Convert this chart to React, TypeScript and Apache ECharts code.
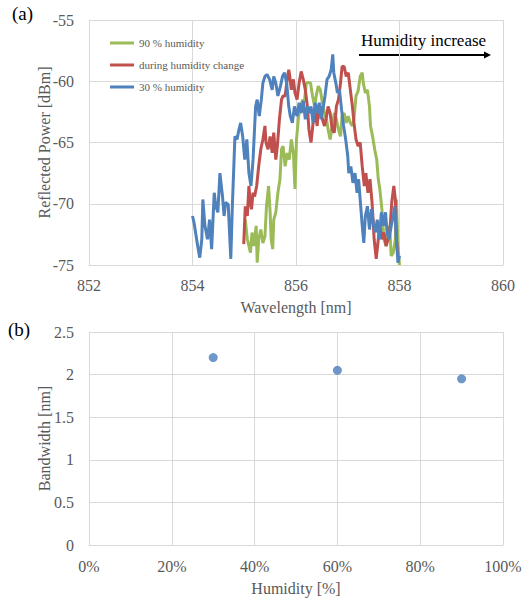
import React, { useEffect, useRef } from "react";
import * as echarts from "echarts";

// ---- Panel (a): reflected spectra ----
const wl30 = [854.00,854.03,854.10,854.14,854.18,854.20,854.24,854.29,854.33,854.37,854.42,854.45,854.49,854.53,854.58,854.61,854.64,854.69,854.74,854.77,854.82,854.86,854.90,854.93,854.97,855.01,855.05,855.09,855.13,855.17,855.22,855.25,855.29,855.33,855.36,855.40,855.44,855.49,855.54,855.57,855.61,855.65,855.70,855.74,855.78,855.82,855.86,855.89,855.93,855.97,856.02,856.06,856.10,856.14,856.18,856.22,856.25,856.29,856.33,856.37,856.41,856.45,856.48,856.52,856.56,856.60,856.64,856.68,856.71,856.73,856.77,856.80,856.84,856.88,856.92,856.96,857.00,857.02,857.06,857.10,857.14,857.18,857.21,857.25,857.28,857.31,857.34,857.38,857.42,857.46,857.50,857.53,857.57,857.61,857.65,857.69,857.73,857.76,857.80,857.84,857.88,857.91,857.94,857.97,858.00];
const p30 = [-71.0,-71.55,-73.45,-74.4,-72.9,-69.65,-71.8,-72.9,-71.3,-73.7,-69.1,-70.2,-70.7,-67.5,-69.4,-71.0,-69.9,-70.05,-74.5,-70.2,-64.5,-64.75,-63.9,-63.4,-64.5,-66.4,-64.75,-67.5,-68.55,-66.4,-62.05,-61.5,-62.85,-61.5,-60.15,-59.6,-59.45,-59.85,-60.7,-59.6,-60.15,-61.2,-60.4,-59.6,-59.3,-60.15,-62.05,-62.85,-63.4,-62.05,-62.85,-61.75,-62.6,-61.6,-63.1,-62.05,-62.6,-62.05,-63.4,-61.75,-62.6,-61.75,-63.1,-62.3,-61.2,-59.85,-59.6,-59.05,-57.8,-59.3,-60.15,-60.95,-60.7,-62.3,-63.65,-64.75,-66.1,-67.5,-66.95,-68.3,-67.5,-69.1,-68.0,-70.2,-71.8,-73.2,-71.0,-70.2,-72.1,-70.45,-71.8,-72.35,-71.3,-72.9,-70.7,-71.8,-70.7,-72.35,-72.9,-71.8,-71.0,-70.2,-72.9,-74.8,-74.25];

const wlMid = [854.99,855.02,855.06,855.09,855.11,855.14,855.17,855.20,855.24,855.28,855.32,855.36,855.40,855.42,855.46,855.50,855.54,855.57,855.61,855.64,855.68,855.72,855.75,855.79,855.83,855.86,855.88,855.91,855.95,855.98,856.02,856.06,856.10,856.14,856.18,856.22,856.25,856.29,856.33,856.37,856.41,856.43,856.47,856.51,856.55,856.59,856.62,856.66,856.70,856.74,856.78,856.82,856.86,856.89,856.93,856.97,857.01,857.05,857.09,857.12,857.16,857.20,857.24,857.28,857.32,857.35,857.39,857.43,857.47,857.51,857.55,857.59,857.62,857.66,857.70,857.74,857.78,857.82,857.85,857.89,857.92,857.94,857.97];
const pMid = [-73.3,-70.2,-71.0,-68.55,-69.65,-70.45,-69.1,-69.4,-68.55,-66.9,-65.55,-64.75,-63.65,-65.0,-65.55,-64.5,-65.85,-64.2,-66.4,-65.3,-63.1,-61.5,-61.2,-61.2,-59.85,-59.05,-59.6,-60.7,-59.85,-60.95,-61.5,-60.15,-59.2,-59.85,-60.7,-62.05,-63.95,-65.0,-63.4,-62.6,-63.65,-62.3,-62.05,-63.1,-63.65,-62.85,-62.05,-62.6,-63.95,-64.2,-62.05,-61.5,-60.15,-58.8,-58.8,-59.6,-59.3,-60.7,-62.05,-63.4,-64.75,-65.3,-65.0,-66.95,-68.55,-67.5,-69.1,-68.0,-69.9,-72.9,-74.5,-72.9,-71.8,-72.9,-72.35,-73.45,-72.9,-71.8,-69.9,-68.55,-69.65,-72.9,-74.25];

const wl90 = [855.02,855.06,855.09,855.12,855.15,855.19,855.23,855.25,855.28,855.32,855.36,855.40,855.43,855.47,855.50,855.52,855.55,855.57,855.61,855.65,855.69,855.72,855.75,855.79,855.83,855.87,855.91,855.95,855.98,856.01,856.05,856.09,856.13,856.16,856.20,856.24,856.28,856.32,856.36,856.39,856.43,856.47,856.51,856.55,856.59,856.62,856.66,856.70,856.74,856.78,856.82,856.86,856.89,856.93,856.97,857.01,857.05,857.09,857.12,857.16,857.20,857.24,857.28,857.30,857.34,857.38,857.42,857.44,857.48,857.52,857.56,857.59,857.62,857.66,857.70,857.74,857.78,857.82,857.84,857.88,857.92,857.94,857.97,858.00];
const p90 = [-71.3,-72.9,-73.45,-74.0,-72.35,-73.45,-71.8,-74.8,-72.9,-72.1,-73.2,-72.65,-70.2,-68.55,-70.7,-72.9,-73.7,-71.3,-70.7,-69.1,-68.0,-65.55,-65.3,-66.95,-65.85,-66.4,-64.75,-65.85,-68.8,-64.75,-62.85,-62.05,-61.5,-61.75,-60.15,-60.1,-60.15,-61.2,-62.05,-61.2,-60.4,-60.7,-61.75,-62.6,-63.1,-63.95,-64.75,-63.65,-62.6,-63.1,-63.95,-64.5,-62.85,-62.6,-63.4,-62.85,-63.4,-63.65,-63.1,-61.2,-60.8,-59.6,-59.3,-60.15,-60.95,-60.7,-62.05,-63.65,-64.5,-65.55,-66.4,-68.0,-68.8,-70.45,-72.9,-73.45,-71.8,-72.65,-74.25,-74.0,-72.9,-69.65,-73.45,-75.0];

const seriesNames = ["90 % humidity", "during humidity change", "30 % humidity"];
const seriesColors = ["#9bbb59", "#c0504d", "#4f81bd"];

// ---- Panel (b): bandwidth ----
const humidity = [30, 60, 90];
const bandwidth = [2.2, 2.05, 1.95];

const FONT = "Liberation Serif";
const TXT = "#595959";
const GRIDC = "#d9d9d9";

function zip(a: number[], b: number[]) {
  return a.map((v, i) => [v, b[i]]);
}

export default function App() {
  const ref = useRef<HTMLDivElement>(null);
  useEffect(() => {
    document.body.style.margin = "0";
    const chart = echarts.init(ref.current!, null, { renderer: "svg" });
    const lbl = { color: TXT, fontFamily: FONT, fontSize: 16 };
    const axisCommon = {
      axisTick: { show: false },
      axisLine: { show: true, lineStyle: { color: GRIDC, width: 1 } },
      splitLine: { show: true, lineStyle: { color: GRIDC, width: 1 } },
      nameTextStyle: { color: TXT, fontFamily: FONT, fontSize: 16 },
      nameLocation: "middle" as const,
      nameMoveOverlap: false,
    };
    const lineData = [zip(wl90, p90), zip(wlMid, pMid), zip(wl30, p30)];
    chart.setOption({
      animation: false,
      textStyle: { fontFamily: FONT },
      grid: [
        { left: 89, right: 22, top: 20, height: 245 },
        { left: 89, right: 22, top: 332, height: 213 },
      ],
      xAxis: [
        {
          ...axisCommon,
          type: "value",
          gridIndex: 0,
          min: 852,
          max: 860,
          interval: 2,
          name: "Wavelength [nm]",
          nameGap: 34,
          axisLabel: { ...lbl, margin: 12 },
        },
        {
          ...axisCommon,
          type: "value",
          gridIndex: 1,
          min: 0,
          max: 100,
          interval: 20,
          name: "Humidity [%]",
          nameGap: 35,
          axisLabel: { ...lbl, margin: 13, formatter: "{value}%" },
        },
      ],
      yAxis: [
        {
          ...axisCommon,
          type: "value",
          gridIndex: 0,
          min: -75,
          max: -55,
          interval: 5,
          name: "Reflected Power [dBm]",
          nameGap: 37,
          axisLabel: { ...lbl, margin: 15 },
        },
        {
          ...axisCommon,
          type: "value",
          gridIndex: 1,
          min: 0,
          max: 2.5,
          interval: 0.5,
          name: "Bandwidth [nm]",
          nameGap: 37,
          axisLabel: { ...lbl, margin: 15 },
        },
      ],
      legend: {
        data: seriesNames,
        orient: "vertical",
        left: 105,
        top: 31,
        icon: "rect",
        itemWidth: 24,
        itemHeight: 3,
        itemGap: 8,
        textStyle: { color: TXT, fontFamily: FONT, fontSize: 11, lineHeight: 14 },
      },
      series: [
        ...seriesNames.map((n, i) => ({
          name: n,
          type: "line",
          xAxisIndex: 0,
          yAxisIndex: 0,
          data: lineData[i],
          symbol: "none",
          showSymbol: false,
          lineStyle: { color: seriesColors[i], width: 3 },
          itemStyle: { color: seriesColors[i] },
        })),
        {
          name: "Bandwidth",
          type: "scatter",
          xAxisIndex: 1,
          yAxisIndex: 1,
          data: zip(humidity, bandwidth),
          symbolSize: 9,
          itemStyle: { color: "#4a7ebb" },
        },
      ],
      graphic: [
        { type: "text", left: 12, top: 4, style: { text: "(a)", font: `19px ${FONT}`, fill: "#000" } },
        { type: "text", left: 8, top: 320, style: { text: "(b)", font: `19px ${FONT}`, fill: "#000" } },
        { type: "text", left: 361, top: 32, style: { text: "Humidity increase", font: `17px ${FONT}`, fill: "#000" } },
        { type: "line", shape: { x1: 359, y1: 55, x2: 485, y2: 55 }, style: { stroke: "#000", lineWidth: 2 } },
        { type: "polygon", shape: { points: [[484, 51.5], [491, 55], [484, 58.5]] }, style: { fill: "#000" } },
      ],
    });
    return () => chart.dispose();
  }, []);
  return <div ref={ref} style={{ width: 525, height: 600 }} />;
}
